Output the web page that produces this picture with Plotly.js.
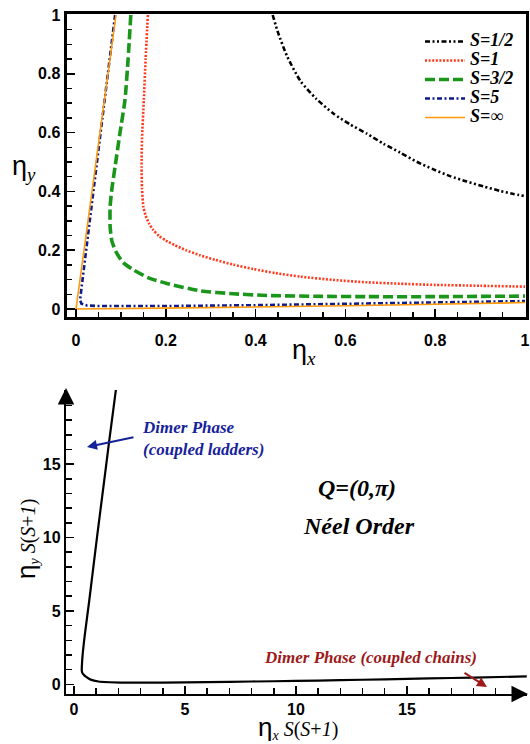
<!DOCTYPE html>
<html><head><meta charset="utf-8">
<script src="https://cdn.plot.ly/plotly-3.0.1.min.js"></script>
<style>html,body{margin:0;padding:0;background:#fff}</style>
</head><body><div id="chart" style="width:530px;height:744px"></div>
<script>
// ---- Top panel data: eta_y vs eta_x phase boundaries ----
const s12_x = [0.438, 0.450, 0.470, 0.500, 0.535, 0.573, 0.610, 0.647, 0.685, 0.722, 0.760, 0.796, 0.833, 0.870, 0.907, 0.944, 0.972, 1.000];
const s12_y = [1.000, 0.940, 0.860, 0.775, 0.715, 0.665, 0.628, 0.597, 0.562, 0.532, 0.500, 0.475, 0.452, 0.434, 0.417, 0.402, 0.392, 0.384];

const s1_x = [0.160, 0.155, 0.151, 0.147, 0.146, 0.147, 0.150, 0.155, 0.163, 0.172, 0.185, 0.200, 0.220, 0.245, 0.276, 0.310, 0.350, 0.395, 0.445, 0.500, 0.573, 0.647, 0.722, 0.800, 0.900, 1.000];
const s1_y = [1.000, 0.850, 0.711, 0.580, 0.484, 0.410, 0.348, 0.318, 0.290, 0.269, 0.248, 0.233, 0.217, 0.200, 0.183, 0.167, 0.151, 0.136, 0.122, 0.110, 0.099, 0.091, 0.086, 0.082, 0.079, 0.076];

const s32_x = [0.122, 0.116, 0.109, 0.098, 0.087, 0.080, 0.076, 0.076, 0.080, 0.091, 0.105, 0.128, 0.160, 0.202, 0.276, 0.350, 0.425, 0.550, 0.647, 0.800, 1.000];
const s32_y = [1.000, 0.850, 0.711, 0.600, 0.484, 0.410, 0.348, 0.280, 0.230, 0.189, 0.158, 0.133, 0.107, 0.087, 0.062, 0.052, 0.046, 0.043, 0.042, 0.042, 0.044];

const s5_x = [0.087, 0.066, 0.046, 0.026, 0.009, 0.012, 0.024, 0.050, 0.200, 0.400, 0.600, 0.800, 1.000];
const s5_y = [1.000, 0.740, 0.500, 0.250, 0.031, 0.018, 0.012, 0.010, 0.010, 0.013, 0.017, 0.022, 0.027];

const sinf_x = [0.089, 0.000, 0.200, 0.400, 0.600, 0.800, 1.000];
const sinf_y = [1.000, 0.000, 0.003, 0.006, 0.011, 0.016, 0.022];

const legendNames = ['S=1/2', 'S=1', 'S=3/2', 'S=5', 'S=\u221e'];

// ---- Bottom panel data: scaled boundary ----
const b_x = [1.90, 1.58, 1.33, 1.06, 0.69, 0.49, 0.40, 0.36, 0.35, 0.37, 0.42, 0.55, 0.75, 1.10, 1.60, 2.60, 4.0, 6.0, 8.0, 10.0, 12.0, 14.0, 16.0, 18.0, 20.4];
const b_y = [20.2, 16.5, 13.5, 10.3, 5.74, 3.40, 2.20, 1.40, 0.95, 0.80, 0.68, 0.50, 0.32, 0.19, 0.14, 0.11, 0.12, 0.15, 0.19, 0.23, 0.28, 0.34, 0.40, 0.46, 0.54];

const bTickVals = [0, 5, 10, 15];
const bMinorVals = [0,1,2,3,4,5,6,7,8,9,10,11,12,13,14,15,16,17,18,19];

const W = 530, H = 744;
const px = v => v / W;
const py = v => 1 - v / H;

const tickFont = {family: 'Liberation Sans, Arial, sans-serif', size: 16, color: '#000', weight: 'bold'};
const lg = t => '<span style="font-size:18px">' + t + '</span>';

const traces = [
  {x: s12_x, y: s12_y, name: lg(legendNames[0]), mode: 'lines', line: {color: '#000000', width: 2.6, dash: '5px,2.5px,2px,2.5px,2px,2.5px', shape: 'spline', smoothing: 0.6}},
  {x: s1_x, y: s1_y, name: lg(legendNames[1]), mode: 'lines', line: {color: '#ff3a1e', width: 2.6, dash: '2px,1.6px', shape: 'spline', smoothing: 0.6}},
  {x: s32_x, y: s32_y, name: lg(legendNames[2]), mode: 'lines', line: {color: '#1a961a', width: 3.6, dash: '10px,4px', shape: 'spline', smoothing: 0.6}},
  {x: s5_x, y: s5_y, name: lg(legendNames[3]), mode: 'lines', line: {color: '#0d1b8c', width: 2.6, dash: '5px,2.5px,2px,2.5px'}},
  {x: sinf_x, y: sinf_y, name: lg(legendNames[4]), mode: 'lines', line: {color: '#ff9a0a', width: 1.6}},
  {x: b_x, y: b_y, xaxis: 'x2', yaxis: 'y2', mode: 'lines', showlegend: false, line: {color: '#000', width: 2.2, shape: 'spline', smoothing: 0.5}}
];

const etaStyle = 'font-family:Liberation Sans, Arial, sans-serif';

const layout = {
  width: W, height: H,
  margin: {l: 0, r: 0, t: 0, b: 0},
  paper_bgcolor: '#fff', plot_bgcolor: 'rgba(0,0,0,0)',
  showlegend: true,
  legend: {
    x: px(420), y: py(27), xanchor: 'left', yanchor: 'top',
    bgcolor: 'rgba(0,0,0,0)', borderwidth: 0, itemwidth: 40,
    traceorder: 'normal',
    font: {family: 'Liberation Serif, Times New Roman, serif', size: 12, weight: 'bold', style: 'italic', color: '#000'}
  },
  xaxis: {
    domain: [px(66.5), px(525.5)], range: [-0.0212, 1.0011],
    anchor: 'y', showgrid: false, zeroline: false,
    showline: true, linecolor: '#000', linewidth: 3, mirror: true,
    ticks: 'inside', ticklen: 8, tickwidth: 1.5, tickcolor: '#000',
    dtick: 0.2, tick0: 0, tickfont: tickFont, ticklabelstandoff: 7,
    minor: {dtick: 0.05, ticks: 'inside', ticklen: 5, tickwidth: 1.5, tickcolor: '#000', showgrid: false}
  },
  yaxis: {
    domain: [py(317), py(14)], range: [-0.0272, 1.0034],
    anchor: 'x', showgrid: false, zeroline: false,
    showline: true, linecolor: '#000', linewidth: 3, mirror: true,
    ticks: 'inside', ticklen: 8, tickwidth: 1.5, tickcolor: '#000',
    dtick: 0.2, tick0: 0, tickfont: tickFont,
    minor: {dtick: 0.05, ticks: 'inside', ticklen: 5, tickwidth: 1.5, tickcolor: '#000', showgrid: false}
  },
  xaxis2: {
    domain: [px(66), px(527)], range: [-0.36, 20.41],
    anchor: 'y2', showgrid: false, zeroline: false,
    showline: true, linecolor: '#000', linewidth: 2.2,
    ticks: 'inside', ticklen: 8, tickwidth: 1.5, tickcolor: '#000',
    tickmode: 'array', tickvals: bTickVals, tickfont: tickFont,
    minor: {tickmode: 'array', tickvals: bMinorVals, ticks: 'inside', ticklen: 6, tickwidth: 1.5, tickcolor: '#000', showgrid: false}
  },
  yaxis2: {
    domain: [py(694), py(390)], range: [-0.66, 20.05],
    anchor: 'x2', showgrid: false, zeroline: false,
    showline: true, linecolor: '#000', linewidth: 2.2,
    ticks: 'inside', ticklen: 8, tickwidth: 1.5, tickcolor: '#000',
    tickmode: 'array', tickvals: bTickVals, tickfont: tickFont,
    minor: {tickmode: 'array', tickvals: bMinorVals, ticks: 'inside', ticklen: 6, tickwidth: 1.5, tickcolor: '#000', showgrid: false}
  },
  annotations: [
    // top axis titles
    {xref: 'paper', yref: 'paper', x: px(24), y: py(168), xanchor: 'center', yanchor: 'middle', showarrow: false,
     text: '<span style="' + etaStyle + '">\u03b7</span><sub><i>y</i></sub>',
     font: {family: 'Liberation Serif, Times New Roman, serif', size: 27, color: '#000'}},
    {xref: 'paper', yref: 'paper', x: px(304), y: py(352), xanchor: 'center', yanchor: 'middle', showarrow: false,
     text: '<span style="' + etaStyle + '">\u03b7</span><sub><i>x</i></sub>',
     font: {family: 'Liberation Serif, Times New Roman, serif', size: 27, color: '#000'}},
    // bottom axis titles
    {xref: 'paper', yref: 'paper', x: px(298), y: py(727), xanchor: 'center', yanchor: 'middle', showarrow: false,
     text: '<span style="' + etaStyle + ';font-size:26px">\u03b7</span><sub><i>x</i></sub> <i>S</i>(<i>S</i>+<i>1</i>)',
     font: {family: 'Liberation Serif, Times New Roman, serif', size: 20, color: '#000'}},
    {xref: 'paper', yref: 'paper', x: px(26), y: py(539), xanchor: 'center', yanchor: 'middle', showarrow: false, textangle: -90,
     text: '<span style="' + etaStyle + ';font-size:26px">\u03b7</span><sub><i>y</i></sub> <i>S</i>(<i>S</i>+<i>1</i>)',
     font: {family: 'Liberation Serif, Times New Roman, serif', size: 20, color: '#000'}},
    // phase labels
    {xref: 'paper', yref: 'paper', x: px(357), y: py(488), xanchor: 'center', yanchor: 'middle', showarrow: false,
     text: '<b><i>Q</i>=(<i>0</i>,\u03c0)</b>',
     font: {family: 'Liberation Serif, Times New Roman, serif', size: 24, color: '#000', style: 'italic'}},
    {xref: 'paper', yref: 'paper', x: px(359), y: py(526), xanchor: 'center', yanchor: 'middle', showarrow: false,
     text: '<b><i>N\u00e9el Order</i></b>',
     font: {family: 'Liberation Serif, Times New Roman, serif', size: 24, color: '#000'}},
    {xref: 'paper', yref: 'paper', x: px(140), y: py(438), xanchor: 'left', yanchor: 'middle', showarrow: false, align: 'left',
     text: '<b><i>Dimer Phase<br>(coupled ladders)</i></b>',
     font: {family: 'Liberation Serif, Times New Roman, serif', size: 17, color: '#16229a'}},
    {xref: 'paper', yref: 'paper', x: px(87), y: py(447), showarrow: true, text: '', ax: 48, ay: -10,
     arrowhead: 2, arrowsize: 1, arrowwidth: 2, arrowcolor: '#16229a', standoff: 0, startstandoff: 0},
    {xref: 'paper', yref: 'paper', x: px(262), y: py(657), xanchor: 'left', yanchor: 'middle', showarrow: false,
     text: '<b><i>Dimer Phase (coupled chains)</i></b>',
     font: {family: 'Liberation Serif, Times New Roman, serif', size: 17, color: '#9c1a1a'}},
    {xref: 'paper', yref: 'paper', x: px(487), y: py(687), showarrow: true, text: '', ax: -24, ay: -15,
     arrowhead: 2, arrowsize: 1, arrowwidth: 2, arrowcolor: '#9c1a1a', standoff: 0, startstandoff: 0},
    // axis arrowheads (bottom panel)
    {xref: 'paper', yref: 'paper', x: px(528), y: py(694), showarrow: true, text: '', ax: -14, ay: 0,
     arrowhead: 2, arrowsize: 1.5, arrowwidth: 2.2, arrowcolor: '#000', standoff: 0},
    {xref: 'paper', yref: 'paper', x: px(66), y: py(388), showarrow: true, text: '', ax: 0, ay: 14,
     arrowhead: 2, arrowsize: 1.5, arrowwidth: 2.2, arrowcolor: '#000', standoff: 0}
  ]
};

Plotly.newPlot('chart', traces, layout, {staticPlot: true, displayModeBar: false});
</script>
</body></html>
